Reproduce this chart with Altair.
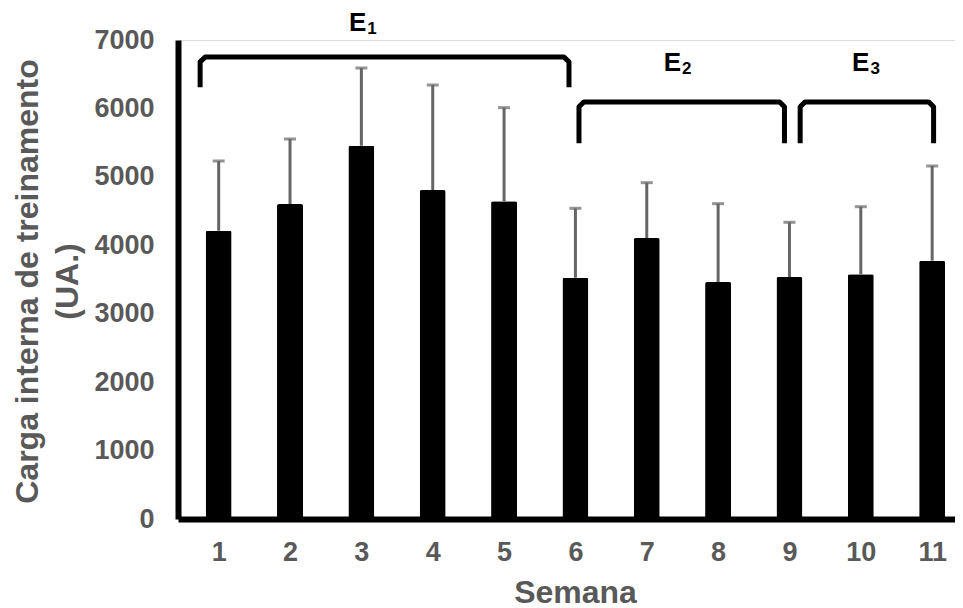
import altair as alt
import pandas as pd

# ---- data ----
weeks = [1, 2, 3, 4, 5, 6, 7, 8, 9, 10, 11]
means = [4213, 4603, 5455, 4808, 4643, 3526, 4106, 3463, 3537, 3576, 3775]
sds = [1019, 950, 1136, 1534, 1368, 1014, 809, 1145, 799, 988, 1384]

bracket_names = ["E1", "E2", "E3"]
bracket_subs = ["1", "2", "3"]
bracket_start = [0.74, 6.05, 9.15]
bracket_end = [5.91, 8.93, 11.02]
bracket_top = [6750, 6095, 6095]
bracket_bottom = [6310, 5490, 5490]
label_x = [3.07, 7.48, 10.12]
label_y = [7130, 6550, 6550]

y_ticks = [0, 1000, 2000, 3000, 4000, 5000, 6000, 7000]

FONT = "Liberation Sans"
GREY = "#595959"

df = pd.DataFrame({"week": weeks, "mean": means, "sd": sds})
df["upper"] = df["mean"] + df["sd"]

# bracket paths (small chamfer at corners to mimic rounded bracket)
cx, cy = 0.07, 70
rows = []
for n, s, e, t, b in zip(bracket_names, bracket_start, bracket_end, bracket_top, bracket_bottom):
    pts = [(s, b), (s, t - cy), (s + cx, t), (e - cx, t), (e, t - cy), (e, b)]
    for i, (px, py) in enumerate(pts):
        rows.append({"g": n, "o": i, "x": px, "y": py})
br = pd.DataFrame(rows)
lab = pd.DataFrame({"x": label_x, "y": label_y, "sub": bracket_subs})

xscale = alt.Scale(domain=[0.5, 11.25], nice=False, zero=False)
yscale = alt.Scale(domain=[0, 7000], nice=False)

bars = alt.Chart(df).mark_bar(color="black", size=26, cornerRadius=2).encode(
    x=alt.X("week:Q", scale=xscale,
            axis=alt.Axis(values=weeks, format="d", grid=False, ticks=False, tickSize=0,
                          domainColor="black", domainWidth=6,
                          labelFont=FONT, labelFontSize=27, labelFontWeight="bold",
                          labelColor=GREY, labelPadding=20,
                          title="Semana", titleFont=FONT, titleFontSize=32,
                          titleFontWeight="bold", titleColor=GREY,
                          titleX=397, titleY=83, titleAlign="center",
                          titleBaseline="alphabetic")),
    y=alt.Y("mean:Q", scale=yscale,
            axis=alt.Axis(values=y_ticks, format="d", grid=False, ticks=False, tickSize=0,
                          domainColor="black", domainWidth=6,
                          labelFont=FONT, labelFontSize=27, labelFontWeight="bold",
                          labelColor=GREY, labelPadding=24,
                          title=["Carga interna de treinamento", "(UA.)"],
                          titleFont=FONT, titleFontSize=32, titleFontWeight="bold",
                          titleColor=GREY, titleAngle=270, titleX=-141, titleY=241,
                          titleAlign="center", titleBaseline="alphabetic",
                          titleLineHeight=40)),
)

stems = alt.Chart(df).mark_rule(color="#666666", strokeWidth=3).encode(
    x="week:Q", y="mean:Q", y2="upper:Q"
)
caps = alt.Chart(df).mark_tick(color="#666666", thickness=3, size=12, orient="horizontal").encode(
    x="week:Q", y="upper:Q"
)

brackets = alt.Chart(br).mark_line(color="black", strokeWidth=5, strokeJoin="round",
                                   strokeCap="butt").encode(
    x="x:Q", y="y:Q", detail="g:N", order="o:Q"
)

etext = alt.Chart(lab).mark_text(text="E", font=FONT, fontSize=26, fontWeight="bold",
                                 color="black", align="right", baseline="alphabetic").encode(
    x="x:Q", y="y:Q"
)
subtext = alt.Chart(lab).mark_text(font=FONT, fontSize=17, fontWeight="bold", color="black",
                                   align="left", baseline="alphabetic", dx=1, dy=3).encode(
    x="x:Q", y="y:Q", text="sub:N"
)

chart = alt.layer(bars, stems, caps, brackets, etext, subtext).properties(
    width=777, height=479,
    autosize=alt.AutoSizeParams(type="none"),
    padding={"left": 170, "top": 32, "right": 0, "bottom": 89},
).configure_view(stroke=None).configure(background="white")

chart.save("out.html", embed_options={"renderer": "svg", "actions": False})
